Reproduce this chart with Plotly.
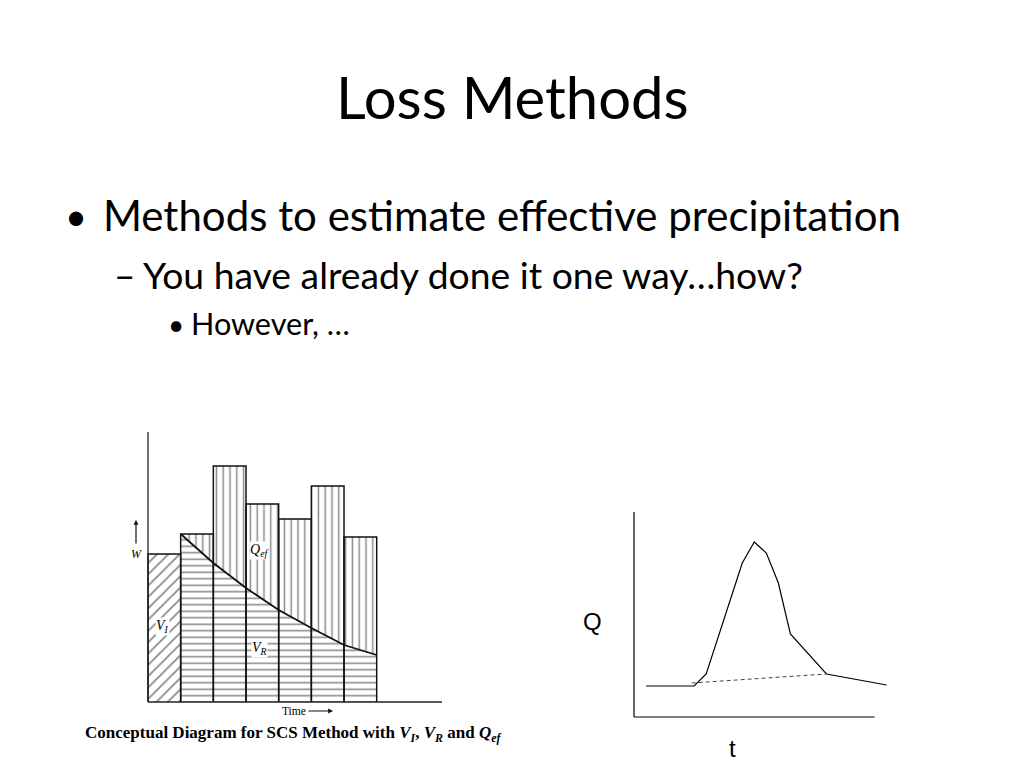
import plotly.graph_objects as go

# page offset of the plot inside the browser (body margin)
OFF = 8
W, H = 1024 - OFF, 768 - OFF

# ---------------- data: SCS conceptual diagram ----------------
bar_edges = [0, 1, 2, 3, 4, 5, 6, 7]                 # time intervals
bar_heights = [7.4, 8.4, 11.8, 9.9, 9.15, 10.8, 8.25]  # rainfall depth per interval
retention_t = [1, 2, 3, 4, 5, 6, 7]                  # V_R boundary curve
retention_v = [8.4, 6.95, 5.7, 4.6, 3.7, 2.85, 2.35]
left_axis_x_end = 9.0
left_axis_y_end = 13.5

# ---------------- data: hydrograph ----------------
hyd_t = [1, 5, 6, 9, 10, 11, 12, 13, 16, 21]
hyd_q = [3.1, 3.1, 4.3, 15.4, 17.5, 16.4, 13.4, 8.3, 4.3, 3.2]
base_t = [4.8, 16]
base_q = [3.4, 4.3]
right_axis_x_end = 20.0
right_axis_y_end = 20.5


def domain(px0, py0, sx, sy, xr, yr):
    px0 -= OFF
    py0 -= OFF
    dx = [(px0 + xr[0] * sx) / W, (px0 + xr[1] * sx) / W]
    dy = [(H - (py0 - yr[0] * sy)) / H, (H - (py0 - yr[1] * sy)) / H]
    return dx, dy


L_xr, L_yr = [-0.3, 9.2], [-0.3, 13.8]
L_dx, L_dy = domain(148, 702, 32.67, 20, L_xr, L_yr)
R_xr, R_yr = [-1.0, 22.0], [-1.0, 21.0]
R_dx, R_dy = domain(634, 717, 12.03, 10, R_xr, R_yr)

fig = go.Figure()
hatch = "#111111"

# V_I region (initial abstraction) - diagonal hatching
fig.add_trace(go.Scatter(
    x=[bar_edges[0], bar_edges[0], bar_edges[1], bar_edges[1]],
    y=[0, bar_heights[0], bar_heights[0], 0],
    fill="toself", mode="lines", line=dict(width=0, color="rgba(0,0,0,0)"),
    fillcolor="white",
    fillpattern=dict(shape="/", size=8, solidity=0.22, fgcolor=hatch, bgcolor="white"),
    xaxis="x", yaxis="y", hoverinfo="skip"))

# V_R region (retention) - horizontal hatching
vr_x = [retention_t[0]] + retention_t + [retention_t[-1]]
vr_y = [0] + retention_v + [0]
fig.add_trace(go.Scatter(
    x=vr_x, y=vr_y, fill="toself", mode="lines",
    line=dict(width=0, color="rgba(0,0,0,0)"), fillcolor="white",
    fillpattern=dict(shape="-", size=6.5, solidity=0.24, fgcolor=hatch, bgcolor="white"),
    xaxis="x", yaxis="y", hoverinfo="skip"))

# Q_ef region (effective rainfall) - vertical hatching
qx, qy = [], []
for i in range(1, len(bar_heights)):
    qx += [bar_edges[i], bar_edges[i + 1]]
    qy += [bar_heights[i], bar_heights[i]]
qx += retention_t[::-1]
qy += retention_v[::-1]
fig.add_trace(go.Scatter(
    x=qx, y=qy, fill="toself", mode="lines",
    line=dict(width=0, color="rgba(0,0,0,0)"), fillcolor="white",
    fillpattern=dict(shape="|", size=6.8, solidity=0.22, fgcolor=hatch, bgcolor="white"),
    xaxis="x", yaxis="y", hoverinfo="skip"))

# bar outlines
ox, oy = [], []
for i, h in enumerate(bar_heights):
    ox += [bar_edges[i], bar_edges[i], bar_edges[i + 1], bar_edges[i + 1], None]
    oy += [0, h, h, 0, None]
fig.add_trace(go.Scatter(x=ox, y=oy, mode="lines", line=dict(color="#111", width=1.5),
                         xaxis="x", yaxis="y", hoverinfo="skip"))

# retention curve
fig.add_trace(go.Scatter(x=retention_t, y=retention_v, mode="lines",
                         line=dict(color="#111", width=1.8),
                         xaxis="x", yaxis="y", hoverinfo="skip"))

# left axes
fig.add_trace(go.Scatter(x=[0, 0, None, 0, left_axis_x_end], y=[left_axis_y_end, 0, None, 0, 0],
                         mode="lines", line=dict(color="#222", width=1.3),
                         xaxis="x", yaxis="y", hoverinfo="skip"))

# hydrograph
fig.add_trace(go.Scatter(x=hyd_t, y=hyd_q, mode="lines", line=dict(color="black", width=1.2),
                         xaxis="x2", yaxis="y2", hoverinfo="skip"))
fig.add_trace(go.Scatter(x=base_t, y=base_q, mode="lines",
                         line=dict(color="#444", width=1, dash="4px,3px"),
                         xaxis="x2", yaxis="y2", hoverinfo="skip"))
fig.add_trace(go.Scatter(x=[0, 0, None, 0, right_axis_x_end], y=[right_axis_y_end, 0, None, 0, 0],
                         mode="lines", line=dict(color="black", width=1.2),
                         xaxis="x2", yaxis="y2", hoverinfo="skip"))

ax_common = dict(visible=False, showgrid=False, zeroline=False, fixedrange=True)
fig.update_layout(
    width=W, height=H, margin=dict(l=0, r=0, t=0, b=0),
    paper_bgcolor="white", plot_bgcolor="rgba(0,0,0,0)", showlegend=False,
    xaxis=dict(domain=L_dx, range=L_xr, anchor="y", **ax_common),
    yaxis=dict(domain=L_dy, range=L_yr, anchor="x", **ax_common),
    xaxis2=dict(domain=R_dx, range=R_xr, anchor="y2", **ax_common),
    yaxis2=dict(domain=R_dy, range=R_yr, anchor="x2", **ax_common),
)


def px(x):
    return (x - OFF) / W


def py(y):
    return 1 - (y - OFF) / H


sans = "Lato"
serif = "Liberation Serif"
ann = []


def text(x, y, s, size, family=sans, xanchor="left", color="black", bg=None):
    d = dict(x=px(x), y=py(y), xref="paper", yref="paper", text=s, showarrow=False,
             xanchor=xanchor, yanchor="middle", font=dict(family=family, size=size, color=color))
    if bg:
        d["bgcolor"] = bg
        d["borderpad"] = 0
    ann.append(d)


text(512, 97, "Loss Methods", 58, xanchor="center")
text(63, 215, "•", 38)
text(101, 215, "Methods to estimate effective precipitation", 42)
text(112, 274, "–", 37)
text(141, 274, "You have already done it one way…how?", 37.3)
text(166, 324, "•", 28)
text(189, 324, "However, …", 30.6)

# diagram labels
text(136, 554, "<i>W</i>", 12, family=serif, xanchor="center")
text(259, 550, "<i>Q<sub>ef</sub></i>", 14, family=serif, xanchor="center", bg="white")
text(162, 626, "<i>V<sub>I</sub></i>", 14, family=serif, xanchor="center", bg="white")
text(259, 648, "<i>V<sub>R</sub></i>", 14, family=serif, xanchor="center", bg="white")
text(294, 711, "Time", 11.5, family=serif, xanchor="center")
text(83, 734, "<b>Conceptual Diagram for SCS Method with <i>V<sub>I</sub></i>, "
     "<i>V<sub>R</sub></i> and <i>Q<sub>ef</sub></i></b>", 17, family=serif)
text(592, 621, "Q", 24, family="Liberation Sans", xanchor="center")
text(732, 748, "t", 24, family="Liberation Sans", xanchor="center")

# arrows
ann.append(dict(x=px(136), y=py(520), xref="paper", yref="paper", text="", showarrow=True,
                ax=0, ay=25, arrowhead=2, arrowsize=0.8, arrowwidth=1.2, arrowcolor="#111"))
ann.append(dict(x=px(333), y=py(711), xref="paper", yref="paper", text="", showarrow=True,
                ax=-26, ay=0, arrowhead=2, arrowsize=0.8, arrowwidth=1.2, arrowcolor="#111"))

fig.update_layout(annotations=ann)
fig.write_html("out.html")
